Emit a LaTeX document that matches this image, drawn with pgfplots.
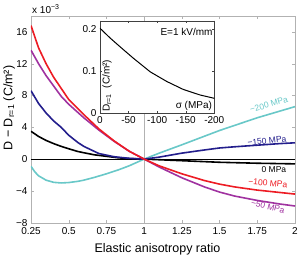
\documentclass[border=0pt]{standalone}
\usepackage{fontspec}
\setmainfont{Liberation Sans}
\usepackage{pgfplots}
\pgfplotsset{compat=1.18}
\definecolor{cred}{RGB}{237,28,36}
\definecolor{cpurple}{RGB}{160,50,160}
\definecolor{cblue}{RGB}{35,30,140}
\definecolor{ccyan}{RGB}{105,200,200}
\begin{document}
\begin{tikzpicture}
\path[use as bounding box] (-31pt,-32.3pt) rectangle (267pt,222.7pt);
\begin{axis}[
  at={(0,0)}, anchor=south west,
  scale only axis, width=264pt, height=206.7pt,
  xmin=0.25, xmax=2, ymin=-8, ymax=18,
  xtick={0.25,0.5,0.75,1,1.25,1.5,1.75,2},
  xticklabels={0.25,0.5,0.75,1,1.25,1.5,1.75,2},
  ytick={-8,-4,0,4,8,12,16},
  yticklabels={−8,−4,0,4,8,12,16},
  tick align=inside,
  major tick length=3pt,
  axis line style={gray!60},
  tick style={gray!60},
  ticklabel style={font=\fontsize{10}{12}\selectfont, text=black},
  xticklabel style={yshift=-1pt},
  xlabel={Elastic anisotropy ratio},
  ylabel={D − D\textsubscript{r=1} (C/m²)},
  xlabel style={at={(axis description cs:0.479,0)}, anchor=base, yshift=-30pt, font=\fontsize{12.5}{14}\selectfont},
  ylabel style={at={(axis description cs:0,0.555)}, anchor=base, yshift=18.7pt, font=\fontsize{12.5}{14}\selectfont},
  clip mode=individual,
]
\addplot[gray!60, line width=0.8pt, forget plot] coordinates {(1,-8) (1,18)};
\addplot[black, line width=0.6pt, forget plot] coordinates {(0.25,0) (2,0)};
% 0 MPa
\addplot[black, line width=1.6pt] coordinates {
(0.25,3.5) (0.3,2.85) (0.35,2.35) (0.4,1.95) (0.45,1.6) (0.5,1.3) (0.56,0.96) (0.6,0.8)
(0.67,0.54) (0.75,0.35) (0.83,0.16) (0.9,0.07) (1.0,0) (1.1,-0.08) (1.25,-0.2) (1.5,-0.4) (1.75,-0.52) (2.0,-0.6)};
% -200 MPa
\addplot[ccyan, line width=1.6pt] coordinates {
(0.25,-0.9) (0.275,-1.6) (0.3,-2.1) (0.35,-2.65) (0.4,-2.92) (0.45,-3.0) (0.5,-2.95) (0.56,-2.8)
(0.6,-2.65) (0.67,-2.3) (0.75,-1.85) (0.83,-1.35) (0.9,-0.85) (1.0,0) (1.1,0.75) (1.25,1.8)
(1.5,3.6) (1.75,5.2) (2.0,6.6)};
% -150 MPa
\addplot[cblue, line width=1.6pt] coordinates {
(0.25,8.6) (0.3,7.0) (0.35,5.8) (0.4,4.8) (0.45,4.0) (0.5,3.0) (0.56,2.1) (0.6,1.6)
(0.7,0.7) (0.8,0.3) (0.9,0.1) (1.0,0) (1.1,0.25) (1.25,0.75) (1.4,1.15) (1.5,1.4)
(1.6,1.55) (1.75,1.75) (1.9,1.95) (2.0,2.05)};
% -50 MPa
\addplot[cpurple, line width=1.6pt] coordinates {
(0.25,13.7) (0.3,12.0) (0.35,10.5) (0.4,9.2) (0.45,7.9) (0.5,6.9) (0.6,5.2) (0.7,3.65)
(0.8,2.25) (0.9,1.0) (1.0,0) (1.1,-1.0) (1.25,-2.35) (1.4,-3.5) (1.5,-4.15) (1.6,-4.65)
(1.75,-5.2) (1.9,-5.65) (2.0,-5.9)};
% -100 MPa
\addplot[cred, line width=1.6pt] coordinates {
(0.25,16.8) (0.3,14.0) (0.35,12.0) (0.4,10.3) (0.45,8.9) (0.5,7.5) (0.6,5.6) (0.7,3.8)
(0.8,2.3) (0.9,1.0) (1.0,0) (1.1,-0.85) (1.25,-1.85) (1.4,-2.7) (1.5,-3.15) (1.6,-3.5)
(1.75,-3.9) (1.9,-4.2) (2.0,-4.4)};
\node[ccyan, rotate=16, font=\fontsize{8.5}{10}\selectfont] at (axis cs:1.827,6.85) {−200 MPa};
\node[cblue, rotate=6, font=\fontsize{8.5}{10}\selectfont] at (axis cs:1.814,2.3) {−150 MPa};
\node[black, font=\fontsize{8.5}{10}\selectfont] at (axis cs:1.86,-1.35) {0 MPa};
\node[cred, rotate=-5, font=\fontsize{8.5}{10}\selectfont] at (axis cs:1.82,-3.0) {−100 MPa};
\node[cpurple, rotate=-14, font=\fontsize{8.5}{10}\selectfont] at (axis cs:1.82,-5.95) {−50 MPa};
\node[anchor=base west, font=\fontsize{10}{12}\selectfont, inner sep=0pt] at (rel axis cs:0,1) [yshift=3pt, xshift=1pt] {x 10\textsuperscript{−3}};
\end{axis}
\begin{axis}[
  at={(69pt,109.7pt)}, anchor=south west,
  scale only axis, width=114.3pt, height=92.3pt,
  x dir=reverse,
  xmin=-200, xmax=0, ymin=0, ymax=0.22,
  xtick={0,-50,-100,-150,-200},
  xticklabels={0,-50,-100,-150,-200},
  ytick={0,0.1,0.2},
  yticklabels={0,0.1,0.2},
  tick align=inside,
  major tick length=2.5pt,
  axis line style={black!75},
  tick style={black!75},
  ticklabel style={font=\fontsize{10}{12}\selectfont},
  axis background/.style={fill=white},
  clip mode=individual,
]
\addplot[black, line width=1pt] coordinates {
(0,0.202) (-17.5,0.179) (-35,0.158) (-58,0.131) (-88,0.098) (-117,0.075) (-146,0.056) (-175,0.043) (-200,0.035)};
\node[anchor=north west, rotate=90, font=\fontsize{10}{12}\selectfont, inner sep=1pt] at (rel axis cs:0.01,0.0) {D\textsubscript{r=1}~ (C/m²)};
\node[anchor=south east, font=\fontsize{10}{12}\selectfont, inner sep=1pt] at (rel axis cs:0.99,0.01) {σ (MPa)};
\node[anchor=north east, font=\fontsize{10}{12}\selectfont, inner sep=1pt] at (rel axis cs:0.995,0.93) {E=1 kV/mm};
\end{axis}
\end{tikzpicture}
\end{document}
